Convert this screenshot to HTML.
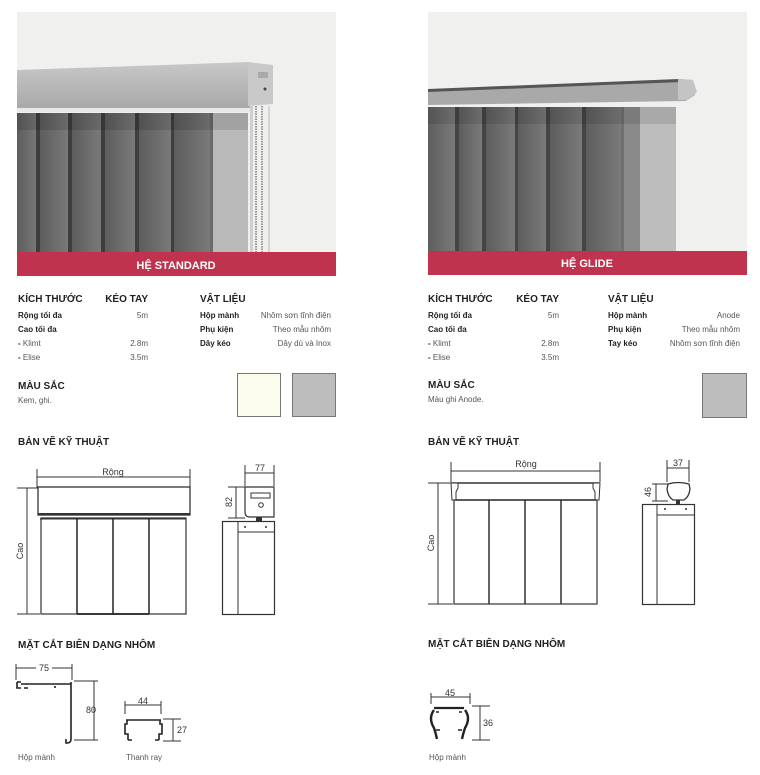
<!DOCTYPE html>
<html><head><meta charset="utf-8"><style>
html,body{margin:0;padding:0;background:#fff;}
svg{display:block;font-family:"Liberation Sans",sans-serif;}
.h{font-size:10px;font-weight:bold;fill:#222;}
.b{font-size:8px;font-weight:bold;fill:#222;}
.t{font-size:8px;fill:#555;}
.d{font-size:9px;fill:#333;}
.ln{stroke:#333;stroke-width:1;fill:none;}
.th{stroke:#222;stroke-width:1.6;fill:none;}
</style></head><body>
<svg width="760" height="775" viewBox="0 0 760 775" xmlns="http://www.w3.org/2000/svg">
<defs>
<linearGradient id="sl" x1="0" x2="1"><stop offset="0" stop-color="#5d5d5d"/><stop offset="1" stop-color="#7a7a7a"/></linearGradient>
<linearGradient id="rl" x1="0" y1="0" x2="0" y2="1"><stop offset="0" stop-color="#c8c8c8"/><stop offset="1" stop-color="#a8a8a8"/></linearGradient>
</defs>
<!-- LEFT PHOTO -->
<rect x="17" y="12" width="319" height="264" fill="#f0f0ef"/>
<g>
<rect x="17" y="113" width="231" height="139" fill="#6a6a6a"/>
<rect x="17" y="113" width="21" height="139" fill="url(#sl)"/>
<rect x="40" y="113" width="29" height="139" fill="url(#sl)"/>
<rect x="72" y="113" width="30" height="139" fill="url(#sl)"/>
<rect x="105" y="113" width="30" height="139" fill="url(#sl)"/>
<rect x="139" y="113" width="33" height="139" fill="url(#sl)"/>
<rect x="174" y="113" width="36" height="139" fill="url(#sl)"/>
<rect x="213" y="113" width="35" height="139" fill="#b9b9b9"/>
<g fill="#3e3e3e"><rect x="36" y="113" width="4" height="139"/><rect x="68" y="113" width="4" height="139"/><rect x="101" y="113" width="4" height="139"/><rect x="135" y="113" width="4" height="139"/><rect x="171" y="113" width="3" height="139"/></g>
<rect x="17" y="113" width="231" height="17" fill="#000" opacity="0.12"/>
<rect x="250" y="106" width="3" height="146" fill="#cfcfcf"/>
<line x1="256" y1="106" x2="256" y2="252" stroke="#999" stroke-width="2" stroke-dasharray="1.5 1"/>
<line x1="262" y1="106" x2="262" y2="252" stroke="#999" stroke-width="2" stroke-dasharray="1.5 1"/>
<line x1="269" y1="106" x2="269" y2="252" stroke="#bbb" stroke-width="1"/>
<polygon points="17,70 250,62 250,108 17,109" fill="url(#rl)"/>
<polygon points="248,62 273,65 273,104 248,106" fill="#c9c9c9"/>
<rect x="17" y="108" width="233" height="4" fill="#e8e8e8"/>
<circle cx="265" cy="89" r="1.5" fill="#444"/>
<rect x="258" y="72" width="10" height="6" fill="#aaa"/>
</g>
<rect x="17" y="252" width="319" height="24" fill="#c0334f"/>
<text x="176" y="269" text-anchor="middle" style="font-size:11px;font-weight:bold;fill:#fff">HỆ STANDARD</text>

<!-- RIGHT PHOTO -->
<rect x="428" y="12" width="319" height="263" fill="#f0f0ef"/>
<g>
<rect x="428" y="107" width="248" height="144" fill="#707070"/>
<rect x="428" y="107" width="27" height="144" fill="url(#sl)"/>
<rect x="459" y="107" width="23" height="144" fill="url(#sl)"/>
<rect x="486" y="107" width="29" height="144" fill="url(#sl)"/>
<rect x="518" y="107" width="28" height="144" fill="url(#sl)"/>
<rect x="550" y="107" width="32" height="144" fill="url(#sl)"/>
<rect x="586" y="107" width="35" height="144" fill="url(#sl)"/>
<rect x="624" y="107" width="30" height="144" fill="#8a8a8a"/>
<rect x="640" y="107" width="36" height="144" fill="#bdbdbd"/>
<g fill="#444"><rect x="455" y="107" width="4" height="144"/><rect x="482" y="107" width="4" height="144"/><rect x="515" y="107" width="3" height="144"/><rect x="546" y="107" width="4" height="144"/><rect x="582" y="107" width="4" height="144"/></g>
<rect x="428" y="107" width="248" height="17" fill="#000" opacity="0.1"/>
<polygon points="428,90 680,79 692,80 695,95 686,101 428,105" fill="#a9a9a9"/>
<polygon points="428,89 680,79 682,82 428,92" fill="#555"/>
<polygon points="678,79 693,80 697,92 688,100 678,100" fill="#c4c4c4"/>
</g>
<rect x="428" y="251" width="319" height="24" fill="#c0334f"/>
<text x="587" y="267" text-anchor="middle" style="font-size:11px;font-weight:bold;fill:#fff">HỆ GLIDE</text>

<!-- LEFT SPECS -->
<text x="18" y="302" class="h">KÍCH THƯỚC</text>
<text x="148" y="302" text-anchor="end" class="h">KÉO TAY</text>
<text x="18" y="318" class="b">Rộng tối đa</text><text x="148" y="318" text-anchor="end" class="t">5m</text>
<text x="18" y="332" class="b">Cao tối đa</text>
<text x="18" y="346" class="t"><tspan style="font-weight:bold;fill:#222">-</tspan> Klimt</text><text x="148" y="346" text-anchor="end" class="t">2.8m</text>
<text x="18" y="360" class="t"><tspan style="font-weight:bold;fill:#222">-</tspan> Elise</text><text x="148" y="360" text-anchor="end" class="t">3.5m</text>
<text x="200" y="302" class="h">VẬT LIỆU</text>
<text x="200" y="318" class="b">Hộp mành</text><text x="331" y="318" text-anchor="end" class="t">Nhôm sơn tĩnh điện</text>
<text x="200" y="332" class="b">Phụ kiện</text><text x="331" y="332" text-anchor="end" class="t">Theo mẫu nhôm</text>
<text x="200" y="346" class="b">Dây kéo</text><text x="331" y="346" text-anchor="end" class="t">Dây dù và Inox</text>
<text x="18" y="389" class="h">MÀU SẮC</text>
<text x="18" y="403" class="t">Kem, ghi.</text>
<rect x="237.5" y="373.5" width="43" height="43" fill="#fdfdee" stroke="#777"/>
<rect x="292.5" y="373.5" width="43" height="43" fill="#bdbdbd" stroke="#777"/>

<!-- RIGHT SPECS -->
<text x="428" y="302" class="h">KÍCH THƯỚC</text>
<text x="559" y="302" text-anchor="end" class="h">KÉO TAY</text>
<text x="428" y="318" class="b">Rộng tối đa</text><text x="559" y="318" text-anchor="end" class="t">5m</text>
<text x="428" y="332" class="b">Cao tối đa</text>
<text x="428" y="346" class="t"><tspan style="font-weight:bold;fill:#222">-</tspan> Klimt</text><text x="559" y="346" text-anchor="end" class="t">2.8m</text>
<text x="428" y="360" class="t"><tspan style="font-weight:bold;fill:#222">-</tspan> Elise</text><text x="559" y="360" text-anchor="end" class="t">3.5m</text>
<text x="608" y="302" class="h">VẬT LIỆU</text>
<text x="608" y="318" class="b">Hộp mành</text><text x="740" y="318" text-anchor="end" class="t">Anode</text>
<text x="608" y="332" class="b">Phụ kiện</text><text x="740" y="332" text-anchor="end" class="t">Theo mẫu nhôm</text>
<text x="608" y="346" class="b">Tay kéo</text><text x="740" y="346" text-anchor="end" class="t">Nhôm sơn tĩnh điện</text>
<text x="428" y="388" class="h">MÀU SẮC</text>
<text x="428" y="402" class="t">Màu ghi Anode.</text>
<rect x="702.5" y="373.5" width="44" height="44" fill="#bdbdbd" stroke="#777"/>

<!-- LEFT DRAWING -->
<text x="18" y="445" class="h">BẢN VẼ KỸ THUẬT</text>
<line class="ln" x1="37" y1="469" x2="37" y2="488"/><line class="ln" x1="190" y1="469" x2="190" y2="488"/>
<line class="ln" x1="37" y1="477" x2="190" y2="477"/>
<text x="113" y="475" text-anchor="middle" class="d">Rộng</text>
<line class="ln" x1="17" y1="488" x2="38" y2="488"/><line class="ln" x1="17" y1="614" x2="40" y2="614"/>
<line class="ln" x1="27" y1="488" x2="27" y2="614"/>
<text transform="translate(23,551) rotate(-90)" text-anchor="middle" class="d">Cao</text>
<rect x="38" y="487" width="152" height="28" fill="#fff" stroke="#333" stroke-width="1.3"/>
<line x1="38" y1="514" x2="190" y2="514" stroke="#333" stroke-width="2"/>
<line class="ln" x1="40" y1="519" x2="186" y2="519"/>
<rect x="41" y="518" width="145" height="96" fill="none" stroke="#333" stroke-width="1.2"/>
<line x1="77" y1="518" x2="77" y2="614" stroke="#222" stroke-width="1.5"/>
<line x1="113" y1="518" x2="113" y2="614" stroke="#222" stroke-width="1.5"/>
<line x1="149" y1="518" x2="149" y2="614" stroke="#222" stroke-width="1.5"/>
<line x1="77" y1="614" x2="149" y2="614" stroke="#222" stroke-width="1.8"/>
<!-- side -->
<line class="ln" x1="245" y1="465" x2="245" y2="486"/><line class="ln" x1="274" y1="465" x2="274" y2="486"/>
<line class="ln" x1="245" y1="473" x2="274" y2="473"/>
<text x="260" y="471" text-anchor="middle" class="d">77</text>
<line class="ln" x1="228" y1="487" x2="245" y2="487"/><line class="ln" x1="228" y1="518" x2="245" y2="518"/>
<line class="ln" x1="236" y1="487" x2="236" y2="518"/>
<text transform="translate(232,502) rotate(-90)" text-anchor="middle" class="d">82</text>
<path d="M245,487 H274 V517 H250 Q245,517 245,512 Z" fill="#fff" stroke="#333" stroke-width="1.2"/>
<rect x="251" y="493" width="19" height="5" fill="#fff" stroke="#333" stroke-width="1"/>
<circle cx="261" cy="505" r="2.3" fill="none" stroke="#333"/>
<rect x="256" y="517" width="6" height="4" fill="#333"/>
<rect x="222.5" y="521.5" width="52" height="93" fill="#fff" stroke="#333" stroke-width="1.2"/>
<line class="ln" x1="238" y1="521" x2="238" y2="614"/>
<line class="ln" x1="238" y1="532" x2="274" y2="532"/>
<circle cx="245" cy="527" r="1" fill="#333"/><circle cx="266" cy="527" r="1" fill="#333"/>

<!-- RIGHT DRAWING -->
<text x="428" y="445" class="h">BẢN VẼ KỸ THUẬT</text>
<line class="ln" x1="451" y1="462" x2="451" y2="482"/><line class="ln" x1="600" y1="462" x2="600" y2="482"/>
<line class="ln" x1="451" y1="471" x2="600" y2="471"/>
<text x="526" y="467" text-anchor="middle" class="d">Rộng</text>
<line class="ln" x1="428" y1="483" x2="452" y2="483"/><line class="ln" x1="428" y1="604" x2="453" y2="604"/>
<line class="ln" x1="438" y1="483" x2="438" y2="604"/>
<text transform="translate(434,543) rotate(-90)" text-anchor="middle" class="d">Cao</text>
<line x1="451" y1="483" x2="600" y2="483" stroke="#333" stroke-width="1.6"/>
<line x1="455" y1="500" x2="596" y2="500" stroke="#333" stroke-width="1.6"/>
<path d="M451,483 h7 v5 l-2,4 v8 h-4 Z" fill="#fff" stroke="#333"/>
<path d="M600,483 h-7 v5 l2,4 v8 h4 Z" fill="#fff" stroke="#333"/>
<rect x="454" y="500" width="143" height="104" fill="none" stroke="#333" stroke-width="1.2"/>
<line x1="489" y1="500" x2="489" y2="604" stroke="#222" stroke-width="1.4"/>
<line x1="525" y1="500" x2="525" y2="604" stroke="#222" stroke-width="1.4"/>
<line x1="561" y1="500" x2="561" y2="604" stroke="#222" stroke-width="1.4"/>
<!-- side -->
<line class="ln" x1="667" y1="460" x2="667" y2="482"/><line class="ln" x1="689" y1="460" x2="689" y2="482"/>
<line class="ln" x1="667" y1="468" x2="689" y2="468"/>
<text x="678" y="466" text-anchor="middle" class="d">37</text>
<line class="ln" x1="652" y1="484" x2="668" y2="484"/><line class="ln" x1="652" y1="501" x2="668" y2="501"/>
<line class="ln" x1="656" y1="484" x2="656" y2="501"/>
<text transform="translate(651,492) rotate(-90)" text-anchor="middle" class="d">46</text>
<path d="M668,484 Q678,481 689,484 L690,489 Q689,497 684,500 H673 Q668,497 667,489 Z" fill="#fff" stroke="#333" stroke-width="1.3"/>
<rect x="676" y="500" width="4" height="4" fill="#333"/>
<rect x="642.5" y="504.5" width="52" height="100" fill="#fff" stroke="#333" stroke-width="1.2"/>
<line class="ln" x1="657" y1="504" x2="657" y2="604"/>
<line class="ln" x1="657" y1="515" x2="694" y2="515"/>
<circle cx="665" cy="509" r="1" fill="#333"/><circle cx="686" cy="509" r="1" fill="#333"/>

<!-- LEFT SECTION -->
<text x="18" y="648" class="h">MẶT CẮT BIÊN DẠNG NHÔM</text>
<line class="ln" x1="16" y1="664" x2="16" y2="680"/><line class="ln" x1="72" y1="664" x2="72" y2="680"/>
<line class="ln" x1="16" y1="668" x2="36" y2="668"/><line class="ln" x1="52" y1="668" x2="72" y2="668"/>
<text x="44" y="671" text-anchor="middle" class="d">75</text>
<path d="M17,682 h4 M17,682 v6 h4 M21,684 h50 M71,682 v57 q0,4 -4,4 h-1 v-4" class="th"/>
<path d="M24,688 h4 M55,686 v2" class="th"/>
<line class="ln" x1="74" y1="681" x2="98" y2="681"/><line class="ln" x1="74" y1="740" x2="98" y2="740"/>
<line class="ln" x1="94" y1="681" x2="94" y2="740"/>
<text x="86" y="713" class="d">80</text>
<line class="ln" x1="125" y1="701" x2="125" y2="714"/><line class="ln" x1="161" y1="701" x2="161" y2="714"/>
<line class="ln" x1="125" y1="705" x2="161" y2="705"/>
<text x="143" y="704" text-anchor="middle" class="d">44</text>
<path d="M126,720 h35 M127,720 v4 h-2 v10 h3 v6 M160,720 v4 h2 v10 h-3 v6 M128,740 h4 M159,740 h-4" class="th"/>
<line class="ln" x1="163" y1="719" x2="181" y2="719"/><line class="ln" x1="163" y1="741" x2="181" y2="741"/>
<line class="ln" x1="173" y1="719" x2="173" y2="741"/>
<text x="177" y="733" class="d">27</text>
<text x="18" y="760" class="t">Hộp mành</text>
<text x="126" y="760" class="t">Thanh ray</text>

<!-- RIGHT SECTION -->
<text x="428" y="647" class="h">MẶT CẮT BIÊN DẠNG NHÔM</text>
<line class="ln" x1="431" y1="693" x2="431" y2="704"/><line class="ln" x1="470" y1="693" x2="470" y2="704"/>
<line class="ln" x1="431" y1="697" x2="470" y2="697"/>
<text x="450" y="696" text-anchor="middle" class="d">45</text>
<path d="M434,708 h30" stroke="#222" stroke-width="2.2" fill="none"/>
<path d="M434,710 q-6,8 0,18 q2,6 3,11 M465,710 q6,8 0,18 q-2,6 -3,11" stroke="#222" stroke-width="2.4" fill="none"/>
<path d="M436,712 h3 M462,712 h-3 M436,730 h4 M462,730 h-4" class="th"/>
<line class="ln" x1="472" y1="706" x2="490" y2="706"/><line class="ln" x1="472" y1="740" x2="490" y2="740"/>
<line class="ln" x1="480" y1="706" x2="480" y2="740"/>
<text x="483" y="726" class="d">36</text>
<text x="429" y="760" class="t">Hộp mành</text>
</svg>
</body></html>
